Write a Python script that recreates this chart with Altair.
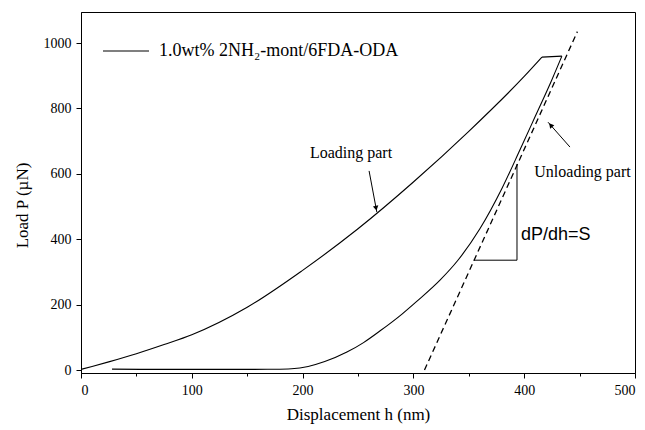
import altair as alt
import pandas as pd

SERIES = "1.0wt% 2NH₂-mont/6FDA-ODA"

# loading branch (nm, µN)
load_h = [0, 10, 25, 50, 75, 100, 150, 200, 250, 300, 350, 400, 416]
load_P = [2, 11, 25, 50, 78, 108, 192, 305, 432, 575, 730, 898, 957]
# hold plateau
plat_h = [416, 434]
plat_P = [957, 960]
# unloading branch
unload_h = [28, 60, 100, 150, 175, 190, 205, 220, 240, 255, 270, 290, 303, 324, 340, 360, 380, 396, 410, 425, 434]
unload_P = [3, 2, 2, 2, 2.5, 4, 11, 26, 55, 84, 120, 172, 210, 275, 335, 432, 556, 672, 776, 888, 960]

# tangent (stiffness) line and slope triangle
dash_h = [310, 448]
dash_P = [0, 1035]
tri_h = [354.5, 393.5, 393.5]
tri_P = [336, 336, 630]

# annotation arrows
arrow_h = [260, 441.3]
arrow_P = [609, 682]
arrow_h2 = [267, 421.5]
arrow_P2 = [483, 758]
head_h = [266.3, 423.9]
head_P = [495, 749]
head_angle = [169, 319]

# annotation texts
note_text = ["Loading part", "Unloading part"]
note_h = [243.7, 452.6]
note_P = [664, 605]
slope_text = ["dP/dh=S"]
slope_h = [397]
slope_P = [413]

SERIF = "Liberation Serif"
SANS = "Liberation Sans"

curve = pd.DataFrame({
    "h": load_h + plat_h + unload_h,
    "P": load_P + plat_P + unload_P,
    "g": ["load"] * len(load_h) + ["plat"] * len(plat_h) + ["unload"] * len(unload_h),
    "s": [SERIES] * (len(load_h) + len(plat_h) + len(unload_h)),
})
dash = pd.DataFrame({"h": dash_h, "P": dash_P})
tri = pd.DataFrame({"h": tri_h, "P": tri_P, "i": list(range(len(tri_h)))})
arrows = pd.DataFrame({"h": arrow_h, "P": arrow_P, "h2": arrow_h2, "P2": arrow_P2})
heads = pd.DataFrame({"h": head_h, "P": head_P, "a": head_angle})
notes = pd.DataFrame({"t": note_text, "h": note_h, "P": note_P})
slope = pd.DataFrame({"t": slope_text, "h": slope_h, "P": slope_P})

xs = alt.Scale(domain=[0, 500], nice=False, zero=False)
ys = alt.Scale(domain=[-9, 1095], nice=False, zero=False)

x_axis = alt.Axis(
    values=list(range(0, 501, 50)),
    format="d",
    labelExpr="datum.value % 100 === 0 ? datum.label : ''",
    tickSize={"condition": {"test": "datum.value % 100 === 0", "value": 5}, "value": 3},
    labelPadding=5,
    title="Displacement h (nm)",
    titleY=41, titleBaseline="middle",
)
y_axis = alt.Axis(
    values=list(range(0, 1001, 100)),
    format="d",
    labelExpr="datum.value % 200 === 0 ? datum.label : ''",
    tickSize={"condition": {"test": "datum.value % 200 === 0", "value": 5}, "value": 3},
    labelPadding=5,
    title="Load P (µN)",
    titleX=-59, titleY=193, titleAngle=270, titleAlign="center", titleBaseline="middle",
)

X = alt.X("h:Q", scale=xs, axis=x_axis)
Y = alt.Y("P:Q", scale=ys, axis=y_axis)

lines = alt.Chart(curve).mark_line(strokeWidth=1.1, interpolate="monotone").encode(
    x=X, y=Y,
    color=alt.Color("s:N", scale=alt.Scale(range=["black"]), legend=alt.Legend(
        title=None, orient="none", legendX=21, legendY=15, symbolType="stroke",
        symbolSize=2116, symbolStrokeWidth=1.1, labelFont=SERIF, labelFontSize=18,
        labelColor="black", labelOffset=9, padding=0, labelLimit=400,
    )),
    detail="g:N",
    order="h:Q",
)

dashed = alt.Chart(dash).mark_line(color="black", strokeWidth=1.3, strokeDash=[6, 4]).encode(
    x=alt.X("h:Q", scale=xs), y=alt.Y("P:Q", scale=ys))

triangle = alt.Chart(tri).mark_line(color="black", strokeWidth=1).encode(
    x=alt.X("h:Q", scale=xs), y=alt.Y("P:Q", scale=ys), order="i:Q")

shafts = alt.Chart(arrows).mark_rule(color="black", strokeWidth=1).encode(
    x=alt.X("h:Q", scale=xs), y=alt.Y("P:Q", scale=ys), x2="h2:Q", y2="P2:Q")

arrowheads = alt.Chart(heads).mark_point(shape="triangle-up", filled=True, color="black",
                                         size=30, opacity=1).encode(
    x=alt.X("h:Q", scale=xs), y=alt.Y("P:Q", scale=ys), angle=alt.Angle("a:Q", scale=None))

note_marks = alt.Chart(notes).mark_text(font=SERIF, fontSize=16, color="black",
                                        align="center", baseline="middle").encode(
    x=alt.X("h:Q", scale=xs), y=alt.Y("P:Q", scale=ys), text="t:N")

slope_mark = alt.Chart(slope).mark_text(font=SANS, fontSize=18, color="black",
                                        align="left", baseline="middle").encode(
    x=alt.X("h:Q", scale=xs), y=alt.Y("P:Q", scale=ys), text="t:N")

chart = alt.layer(lines, dashed, triangle, shafts, arrowheads, note_marks, slope_mark).properties(
    width=554, height=361,
    autosize=alt.AutoSizeParams(type="none"),
    padding={"left": 81, "top": 12, "right": 10, "bottom": 57},
    background="white",
).configure_view(stroke="black", strokeWidth=1).configure_axis(
    grid=False, domainColor="black", domainWidth=1, tickColor="black", tickWidth=1,
    labelColor="black", titleColor="black", labelFont=SERIF, labelFontSize=14,
    titleFont=SERIF, titleFontSize=17, titleFontWeight="normal",
)

chart.save("out.html", embed_options={"renderer": "svg", "actions": False})
